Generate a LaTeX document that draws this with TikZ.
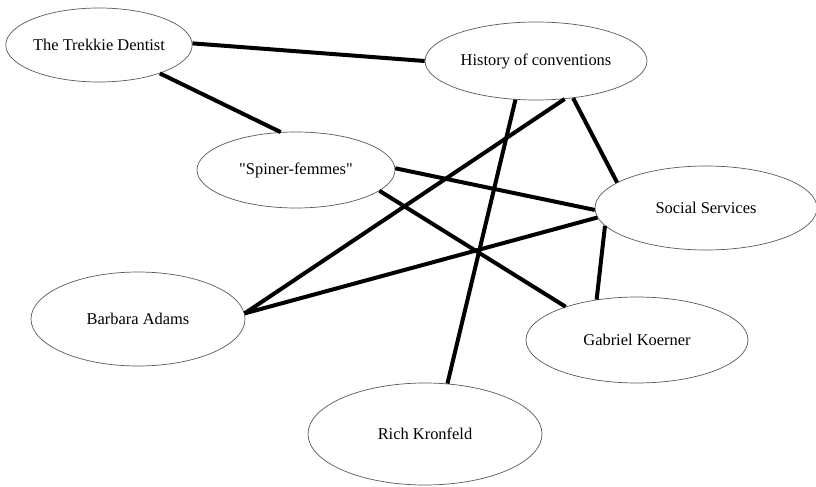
\documentclass[tikz,border=0pt]{standalone}
\usepackage{fontspec}
\setmainfont{Liberation Serif}[Ligatures=TeXOff]
\usetikzlibrary{shapes.geometric}
\begin{document}
\begin{tikzpicture}[x=1bp,y=-1bp,
  topic/.style={ellipse, draw=black!65, line width=0.7bp, inner sep=0pt, font=\fontsize{16.5}{19}\selectfont},
  link/.style={line width=4bp, black}]
\useasboundingbox (0,0) rectangle (816,487);
\node[topic, minimum width=178bp, minimum height=74bp] (trek) at (99,45) {The Trekkie Dentist};
\node[topic, minimum width=222bp, minimum height=78bp] (hist) at (536,61) {History of conventions};
\node[topic, minimum width=198bp, minimum height=76bp] (spin) at (296,170) {"Spiner-femmes"};
\node[topic, minimum width=222bp, minimum height=84bp] (soc) at (706,208) {Social Services};
\node[topic, minimum width=214bp, minimum height=94bp] (barb) at (138,319) {Barbara Adams};
\node[topic, minimum width=222bp, minimum height=86bp] (gab) at (637,340) {Gabriel Koerner};
\node[topic, minimum width=234bp, minimum height=102bp] (rich) at (425,434) {Rich Kronfeld};
\draw[link] (trek.1.3) -- (hist.180);
\draw[link] (trek.-25.7) -- (spin.112.8);
\draw[link] (hist.-118.3) -- (rich.66.3);
\draw[link] (hist.-53.1) -- (barb.3.2);
\draw[link] (hist.-45.8) -- (soc.164.95);
\draw[link] (spin.1.7) -- (soc.181);
\draw[link] (spin.-14.5) -- (gab.155.4);
\draw[link] (soc.185.3) -- (barb.3.2);
\draw[link] (soc.190.5) -- (gab.135);
\end{tikzpicture}
\end{document}
